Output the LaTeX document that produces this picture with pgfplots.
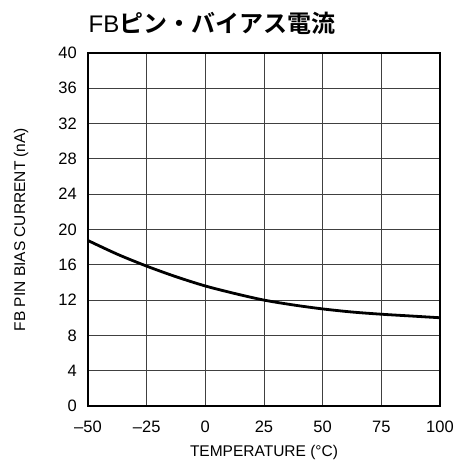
\documentclass[border=0pt]{standalone}
\usepackage{fontspec}
\setmainfont{Liberation Sans}
\newfontfamily\cjk[BoldFont={Noto Sans CJK JP Bold}]{Noto Sans CJK JP}
\usepackage{pgfplots}
\pgfplotsset{compat=1.18}
\begin{document}
\begin{tikzpicture}
\path[use as bounding box] (-88pt,-57pt) rectangle (365pt,406pt);
\begin{axis}[
  scale only axis,
  width=352pt, height=353pt,
  xmin=-50, xmax=100, ymin=0, ymax=40,
  xtick={-50,-25,0,25,50,75,100},
  xticklabels={\textendash50,\textendash25,0,25,50,75,100},
  ytick={0,4,...,40},
  grid=major,
  major grid style={draw=black!75, line width=0.8pt},
  axis line style={line width=1.1pt},
  tick style={draw=none},
  /pgf/number format/assume math mode=true,
  ticklabel style={font=\fontsize{16.5}{18}\selectfont, inner sep=0pt},
  xticklabel style={anchor=center, yshift=-21pt},
  yticklabel style={anchor=east, xshift=-11pt},
  xlabel={TEMPERATURE (°C)},
  xlabel style={font=\fontsize{15.5}{17}\selectfont, at={(axis description cs:0.5,0)}, anchor=center, yshift=-46pt},
]
\addplot[black, line width=2.8pt, smooth] coordinates {
  (-50,18.75) (-37.5,17.2) (-25,15.85) (-12.5,14.65) (0,13.6) (12.5,12.75) (25,12.0)
  (37.5,11.45) (50,11.0) (62.5,10.65) (75,10.4) (87.5,10.2) (100,10.0)
};
\end{axis}
\node[rotate=90, font=\fontsize{15.5}{17}\selectfont] at (-67pt,176.5pt) {FB PIN BIAS CURRENT (nA)};
\node[font=\fontsize{24}{26}\selectfont, anchor=center] at (124pt,383pt) {FB{\cjk\bfseries ピン・バイアス電流}};
\end{tikzpicture}
\end{document}
